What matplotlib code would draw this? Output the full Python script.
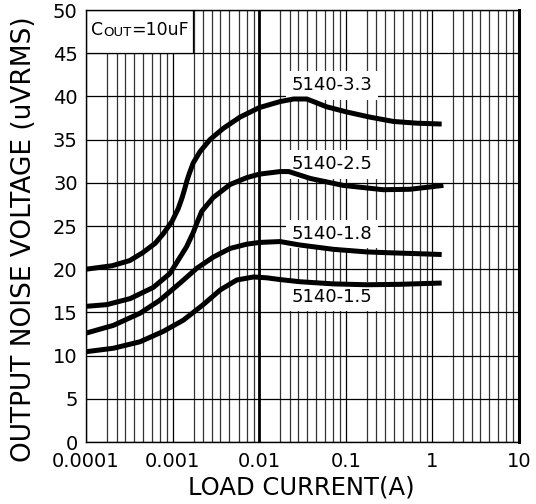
import numpy as np
import matplotlib
matplotlib.use("Agg")
import matplotlib.pyplot as plt
from matplotlib.patches import Rectangle
from matplotlib.ticker import FixedLocator, NullFormatter

# load current (A) and output noise (uVrms)
i_33 = [0.0001, 0.0002, 0.00032, 0.00045, 0.00063, 0.00078, 0.00098, 0.00116,
        0.00128, 0.00138, 0.00146, 0.00155, 0.00173, 0.00207, 0.0027, 0.00385, 0.006,
        0.01, 0.0174, 0.025, 0.0355, 0.06, 0.102, 0.19, 0.355, 0.66, 1.28]
v_33 = [20.0, 20.4, 21.0, 21.9, 23.0, 24.1, 25.5, 27.0,
        28.2, 29.3, 30.2, 31.0, 32.3, 33.6, 35.0, 36.3, 37.6,
        38.7, 39.4, 39.7, 39.7, 38.8, 38.2, 37.6, 37.1, 36.9, 36.8]

i_25 = [0.0001, 0.000174, 0.000324, 0.0006, 0.00093, 0.00112, 0.00145, 0.00174,
        0.0019, 0.00217, 0.00295, 0.0046, 0.0072, 0.01, 0.0174, 0.022,
        0.039, 0.093, 0.27, 0.55, 1.34]
v_25 = [15.7, 15.9, 16.6, 17.9, 19.5, 20.8, 22.6, 24.3,
        25.3, 26.7, 28.3, 29.8, 30.6, 31.0, 31.3, 31.3,
        30.5, 29.7, 29.2, 29.25, 29.7]

i_18 = [0.0001, 0.000207, 0.00042, 0.00071, 0.00122, 0.0019, 0.00295, 0.0046,
        0.0072, 0.0102, 0.0174, 0.0295, 0.072, 0.174, 0.32, 0.66, 1.28]
v_18 = [12.6, 13.5, 14.9, 16.4, 18.4, 20.1, 21.4, 22.4,
        22.9, 23.1, 23.2, 22.8, 22.3, 22.0, 21.9, 21.8, 21.7]

i_15 = [0.0001, 0.000207, 0.00042, 0.00078, 0.00133, 0.00226, 0.00355, 0.0055,
        0.0086, 0.0123, 0.0174, 0.0295, 0.072, 0.174, 0.42, 1.28]
v_15 = [10.45, 10.85, 11.6, 12.8, 14.1, 15.9, 17.6, 18.75,
        19.1, 19.0, 18.8, 18.55, 18.3, 18.2, 18.25, 18.4]

curve_names = ["5140-3.3", "5140-2.5", "5140-1.8", "5140-1.5"]
x_ticks = [0.0001, 0.001, 0.01, 0.1, 1, 10]
x_tick_labels = ["0.0001", "0.001", "0.01", "0.1", "1", "10"]
y_ticks = [0, 5, 10, 15, 20, 25, 30, 35, 40, 45, 50]

fig = plt.figure(figsize=(5.36, 5.04), dpi=100)
ax = fig.add_axes([86 / 536, 1 - 442 / 504, 433 / 536, 432 / 504])

ax.set_xscale("log")
ax.set_xlim(0.0001, 10)
ax.set_ylim(0, 50)

# the hand drawn grid has its 8 minor lines nearly evenly spread in each decade
frac = [0.243, 0.354, 0.452, 0.553, 0.657, 0.761, 0.854, 0.935]
minors = [10.0 ** (d + f) for d in range(-4, 1) for f in frac]
ax.xaxis.set_major_locator(FixedLocator(x_ticks))
ax.xaxis.set_minor_locator(FixedLocator(minors))
ax.xaxis.set_minor_formatter(NullFormatter())
ax.set_xticks(x_ticks)
ax.set_xticklabels(x_tick_labels)
ax.set_yticks(y_ticks)

ax.grid(True, which="major", color="black", lw=0.9)
ax.grid(True, which="minor", axis="x", color="#333333", lw=0.9)
ax.axvline(0.01, color="black", lw=2.0, zorder=2)

ax.tick_params(axis="both", which="both", length=0, labelsize=14)
ax.tick_params(axis="x", pad=7)
ax.tick_params(axis="y", pad=6)

for s in ["left", "bottom", "top"]:
    ax.spines[s].set_linewidth(1.0)
ax.spines["right"].set_linewidth(2.2)

# white box over the grid for the cap value
ax.add_patch(Rectangle((0, 0.9), 0.247, 0.1, transform=ax.transAxes,
                       facecolor="white", edgecolor="black", lw=0.9, zorder=1.6))
t1 = ax.text(0.012, 0.942, "C", transform=ax.transAxes, va="baseline",
             fontsize=12.5, zorder=5)
t2 = ax.annotate("OUT", xy=(1, 0), xycoords=t1, va="bottom", fontsize=9.5, zorder=5)
ax.annotate("=10uF", xy=(1, 0), xycoords=t2, va="bottom", fontsize=12.5, zorder=5)

curves = [(i_33, v_33), (i_25, v_25), (i_18, v_18), (i_15, v_15)]
for xs, ys in curves:
    ax.plot(xs, ys, color="black", lw=3.6, solid_capstyle="butt",
            solid_joinstyle="round", zorder=3)

label_y = [40.7, 31.55, 23.5, 16.25]
for name, ly in zip(curve_names, label_y):
    ax.text(0.0237, ly, name, fontsize=13, ha="left", va="baseline", zorder=2.5,
            bbox=dict(boxstyle="square,pad=0.3", facecolor="white", edgecolor="none"))

# the reference label runs off the top edge; kept just inside here
fig.text(24 / 536, 1 - 462 / 504, "OUTPUT NOISE VOLTAGE (uVRMS)", rotation=90,
         ha="center", va="bottom", fontsize=19)
fig.text(301 / 536, 1 - 495 / 504, "LOAD CURRENT(A)", ha="center",
         va="baseline", fontsize=17.5)

fig.savefig("out.png", dpi=100)
